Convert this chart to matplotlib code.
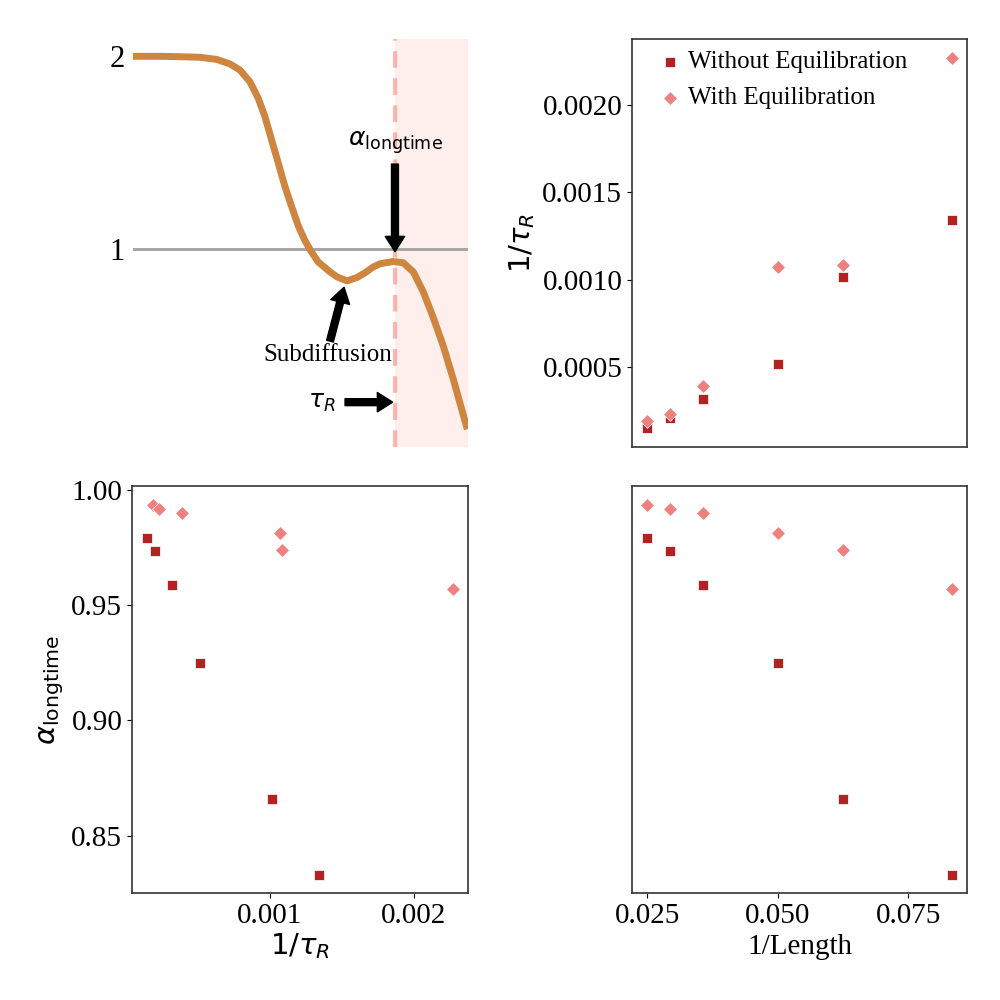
import numpy as np
import matplotlib
matplotlib.use("Agg")
import matplotlib.pyplot as plt

plt.rcParams['font.family'] = 'serif'
plt.rcParams['font.serif'] = ['Liberation Serif', 'DejaVu Serif']
plt.rcParams['mathtext.fontset'] = 'dejavusans'

# schematic MSD exponent curve (x in arbitrary log-time units)
curve_t = [0.0, 0.81, 1.40, 2.00, 2.50, 2.90, 3.19, 3.49, 3.74, 3.94, 4.14, 4.34, 4.54,
           4.74, 4.93, 5.13, 5.33, 5.53, 5.67, 5.88, 6.09, 6.39, 6.69, 6.93, 7.16, 7.37,
           7.77, 8.07, 8.37, 8.67, 8.96, 9.26, 9.56, 9.81, 9.98]
curve_alpha = [2.0, 2.0, 1.998, 1.995, 1.984, 1.960, 1.929, 1.868, 1.781, 1.686, 1.564, 1.443, 1.321,
               1.217, 1.121, 1.043, 0.983, 0.931, 0.911, 0.880, 0.854, 0.833, 0.851, 0.876, 0.904, 0.922,
               0.934, 0.927, 0.879, 0.774, 0.644, 0.496, 0.323, 0.167, 0.0625]
tau_r_pos = 7.82

# data
inv_length = [1/40, 1/34, 1/28, 1/20, 1/16, 1/12]
inv_tau_without = [0.000151, 0.000208, 0.000322, 0.000517, 0.001015, 0.001342]
inv_tau_with = [0.000191, 0.000231, 0.000391, 0.001073, 0.001084, 0.00227]
alpha_without = [0.9792, 0.9733, 0.9589, 0.925, 0.866, 0.8332]
alpha_with = [0.9936, 0.9916, 0.9899, 0.9811, 0.9739, 0.9571]

c_without = '#B22222'
c_with = '#F08080'
fs = 21

fig = plt.figure(figsize=(10, 10), dpi=100)
ax1 = fig.add_axes([0.133, 0.553, 0.335, 0.408])
ax2 = fig.add_axes([0.632, 0.553, 0.335, 0.408])
ax3 = fig.add_axes([0.132, 0.107, 0.336, 0.407])
ax4 = fig.add_axes([0.632, 0.107, 0.335, 0.407])

# --- top left: schematic
ax1.axvspan(tau_r_pos, 10, color='salmon', alpha=0.13, lw=0)
ax1.axhline(1, color='#A0A0A0', lw=2)
ax1.axvline(tau_r_pos, color='salmon', alpha=0.55, lw=3, ls=(0, (4, 2.5)))
ax1.plot(curve_t, curve_alpha, color='#CD853F', lw=5, solid_capstyle='butt',
         solid_joinstyle='round')
ax1.set_xlim(0, 10)
ax1.set_ylim(-0.03, 2.09)
ax1.set_xticks([])
ax1.set_yticks([1, 2])
ax1.set_yticklabels(['1', '2'])
ax1.tick_params(axis='y', length=0, labelsize=22, pad=6)
for s in ax1.spines.values():
    s.set_visible(False)

arrow = dict(facecolor='black', edgecolor='black', width=5, headwidth=14, headlength=11)
ax1.text(tau_r_pos, 1.55, r'$\alpha_{\rm longtime}$', fontsize=18, ha='center', va='center')
ax1.annotate('', xy=(tau_r_pos, 0.985), xytext=(tau_r_pos, 1.44), arrowprops=arrow)
ax1.text(5.82, 0.45, 'Subdiffusion', fontsize=18, ha='center', va='center')
ax1.annotate('', xy=(6.30, 0.80), xytext=(5.88, 0.52), arrowprops=arrow)
ax1.text(5.64, 0.20, r'$\tau_R$', fontsize=18, ha='center', va='center')
ax1.annotate('', xy=(7.75, 0.203), xytext=(6.33, 0.203), arrowprops=arrow)

# --- top right: 1/tau_R vs 1/Length
ax2.scatter(inv_length, inv_tau_without, marker='s', s=55, color=c_without,
            edgecolor='white', linewidth=0.5, label='Without Equilibration', zorder=3)
ax2.scatter(inv_length, inv_tau_with, marker='D', s=50, color=c_with,
            edgecolor='white', linewidth=0.5, label='With Equilibration', zorder=3)
ax2.set_xticks([])
ax2.set_yticks([0.0005, 0.0010, 0.0015, 0.0020])
ax2.set_yticklabels(['0.0005', '0.0010', '0.0015', '0.0020'])
ax2.tick_params(axis='y', labelsize=fs)
ax2.set_ylabel(r'$1/\tau_R$', fontsize=fs)
ax2.legend(loc='upper left', bbox_to_anchor=(0.046, 0.996), frameon=False, fontsize=18,
           handlelength=1.0, handletextpad=0.22, borderaxespad=0, labelspacing=0.55)

# --- bottom left: alpha vs 1/tau_R
ax3.scatter(inv_tau_without, alpha_without, marker='s', s=55, color=c_without,
            edgecolor='white', linewidth=0.5, zorder=3)
ax3.scatter(inv_tau_with, alpha_with, marker='D', s=50, color=c_with,
            edgecolor='white', linewidth=0.5, zorder=3)
ax3.set_xticks([0.001, 0.002])
ax3.set_xticklabels(['0.001', '0.002'])
ax3.set_yticks([0.85, 0.90, 0.95, 1.00])
ax3.set_yticklabels(['0.85', '0.90', '0.95', '1.00'])
ax3.tick_params(labelsize=fs)
ax3.set_xlabel(r'$1/\tau_R$', fontsize=fs, labelpad=2)
ax3.set_ylabel(r'$\alpha_{\rm longtime}$', fontsize=fs)

# --- bottom right: alpha vs 1/Length
ax4.scatter(inv_length, alpha_without, marker='s', s=55, color=c_without,
            edgecolor='white', linewidth=0.5, zorder=3)
ax4.scatter(inv_length, alpha_with, marker='D', s=50, color=c_with,
            edgecolor='white', linewidth=0.5, zorder=3)
ax4.set_ylim(ax3.get_ylim())
ax4.set_yticks([])
ax4.set_xticks([0.025, 0.050, 0.075])
ax4.set_xticklabels(['0.025', '0.050', '0.075'])
ax4.tick_params(labelsize=fs)
ax4.set_xlabel('1/Length', fontsize=fs)

ax2.set_xlim(ax4.get_xlim())

for ax in (ax2, ax3, ax4):
    for s in ax.spines.values():
        s.set_color('0.2')
        s.set_linewidth(1.2)

fig.savefig('out.png', dpi=100)
